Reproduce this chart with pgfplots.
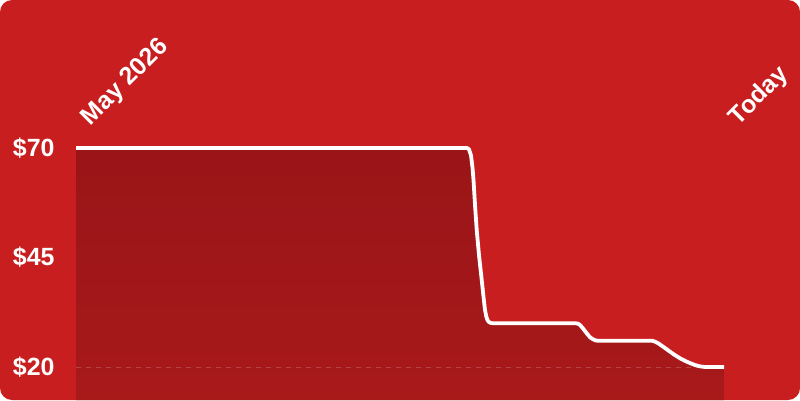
\documentclass[border=0pt]{standalone}
\usepackage{fontspec}
\setmainfont{Liberation Sans}
\usepackage{pgfplots}
\pgfplotsset{compat=1.18}
\definecolor{bgred}{HTML}{C91E1F}
\definecolor{filltop}{HTML}{9A1518}
\definecolor{fillbot}{HTML}{A8191A}
\definecolor{dashc}{HTML}{B44446}
\pgfplotstableread{
x y
0 70
391 70
393 69.7
395 68.3
396.5 65.5
397.5 62.7
399 57
400.7 51.3
403 45.5
405.7 39.9
407.5 36
409 33
410.3 31.5
411.5 30.7
413 30.25
415 30.05
417 30
499 30
502 29.9
504 29.6
507 28.8
510.7 27.7
514 26.8
517.3 26.3
520 26.05
522.3 26
576 26
579 25.8
582.3 25.4
588 24.5
594 23.5
599 22.7
604 22
609 21.4
614 20.9
619 20.45
624 20.15
628 20.03
631 20
648 20
}\pricedata
\begin{document}
\begin{tikzpicture}[x=1bp,y=1bp]
\fill[white] (0,0) rectangle (800,400);
\fill[bgred, rounded corners=12bp] (0,0) rectangle (800,400);
\begin{axis}[
  at={(76bp,0bp)}, anchor=south west,
  scale only axis, width=648bp, height=270bp,
  xmin=0, xmax=648, ymin=12.47, ymax=74.11,
  axis line style={draw=none},
  major tick length=0pt,
  xtick={0,648}, xticklabels={May 2026,Today},
  xticklabel pos=upper,
  xticklabel style={rotate=45, anchor=south west, inner sep=0pt, text=white, font=\bfseries\fontsize{25}{28}\selectfont, xshift=13bp, yshift=-13bp},
  ytick={20,45,70}, yticklabels={\$20,\$45,\$70},
  yticklabel style={anchor=east, text=white, font=\bfseries\fontsize{25}{28}\selectfont, xshift=-18bp},
]
\addplot[draw=none, top color=filltop, bottom color=fillbot] table {\pricedata} \closedcycle;
\addplot[dashc, line width=1bp, dash pattern=on 5bp off 5bp] coordinates {(0,20) (648,20)};
\addplot[white, line width=3.8bp, line join=round] table {\pricedata};
\end{axis}
\pgfresetboundingbox
\useasboundingbox (0,0) rectangle (800,400);
\end{tikzpicture}
\end{document}
